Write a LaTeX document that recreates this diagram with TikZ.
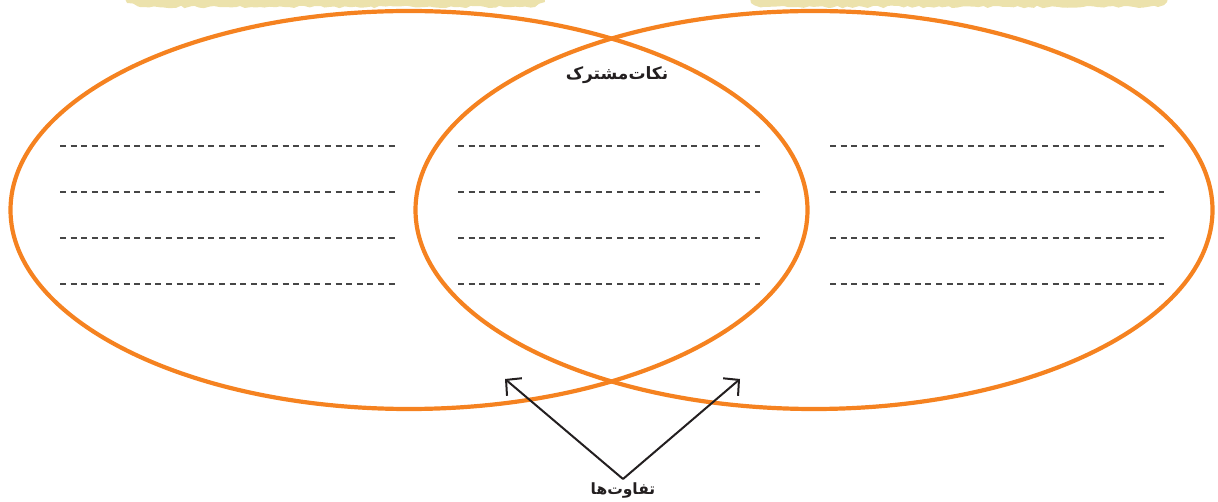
\documentclass[tikz,border=0pt]{standalone}
\usepackage{fontspec}
\newfontfamily\persianfont[Script=Arabic]{DejaVu Sans}
\TeXXeTstate=1
\usetikzlibrary{arrows.meta}
\usetikzlibrary{decorations.pathmorphing}
\usetikzlibrary{shapes.geometric}
\definecolor{VennOrange}{RGB}{245,130,32}
\definecolor{LineGrey}{RGB}{70,70,70}
\definecolor{InkDark}{RGB}{35,31,32}
\definecolor{PaperYellow}{RGB}{236,226,172}
\tikzset{
  venn set/.style={
    draw=VennOrange,
    line width=4.2,
    ellipse,
    inner sep=0pt,
    minimum width=797,
    minimum height=398
  },
  write line/.style={
    draw=LineGrey,
    line width=1.1,
    dash pattern=on 6 off 4.6
  },
  pointer/.style={
    draw=InkDark,
    line width=2,
    -{Straight Barb[length=11,width=23]}
  },
  label text/.style={
    font=\persianfont\bfseries\fontsize{#1}{#1}\selectfont,
    text=InkDark,
    inner sep=1pt
  },
  paper strip/.style={
    fill=PaperYellow,
    decorate,
    decoration={random steps,segment length=5,amplitude=1.3}
  }
}

\begin{document}
\begin{tikzpicture}[x=1pt,y=-1pt]
  \useasboundingbox (0,0) rectangle (1218,502);
  % torn paper strips at the top
  \fill[paper strip] (125,-6) -- (127,3) -- (140,7) -- (535,7) -- (545,2) -- (545,-6) -- cycle;
  \fill[paper strip] (748,-6) -- (751,3) -- (763,7) -- (1158,7) -- (1167,2) -- (1167,-6) -- cycle;
  % the two sets
  \node[venn set] (left set) at (409,210) {};
  \node[venn set] (right set) at (814,210) {};
  \node[label text=17] (common) at (617,75) {\beginR نکات‌مشترک\endR};
  \node[label text=15.5, anchor=north, inner ysep=4pt] (differences) at (623,479) {\beginR تفاوت‌ها\endR};
  \coordinate (left tip) at (505,379);
  \coordinate (right tip) at (740,379);
  \draw[pointer] (differences.north) -- (left tip);
  \draw[pointer] (differences.north) -- (right tip);
  % lines to write on
  \foreach \y in {146,192,238,284} {
    \draw[write line] (60,\y) -- (395,\y);
    \draw[write line] (458,\y) -- (760,\y);
    \draw[write line] (830,\y) -- (1164,\y);
  }
\end{tikzpicture}
\end{document}
